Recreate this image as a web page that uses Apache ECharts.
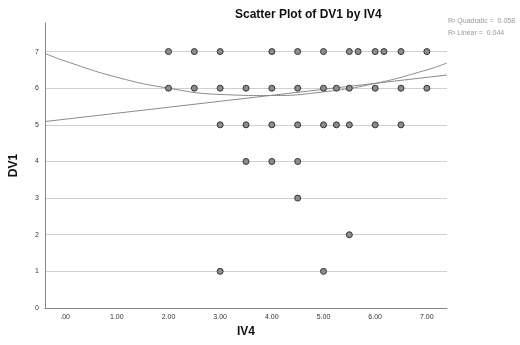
<!DOCTYPE html>
<html>
<head>
<meta charset="utf-8">
<script src="https://cdn.jsdelivr.net/npm/echarts@6/dist/echarts.min.js"></script>
<style>html,body{margin:0;padding:0;background:#fff}#c{width:520px;height:345px}</style>
</head>
<body>
<div id="c"></div>
<script>
// Scatter data (IV4, DV1)
const row7 = [2.0, 2.5, 3.0, 4.0, 4.5, 5.0, 5.5, 5.67, 6.0, 6.17, 6.5, 7.0];
const row6 = [2.0, 2.5, 3.0, 3.5, 4.0, 4.5, 5.0, 5.25, 5.5, 6.0, 6.5, 7.0];
const row5 = [3.0, 3.5, 4.0, 4.5, 5.0, 5.25, 5.5, 6.0, 6.5];
const row4 = [3.5, 4.0, 4.5];
const row3 = [4.5];
const row2 = [5.5];
const row1 = [3.0, 5.0];
// Fit lines
const fitX = [-0.39, 0, 1, 2, 3, 4, 5, 6, 7, 7.39];
const quadY = [6.95, 6.74, 6.30, 6.00, 5.83, 5.80, 5.90, 6.13, 6.50, 6.69];
const linX = [-0.39, 7.39];
const linY = [5.09, 6.36];
const xTicks = [0, 1, 2, 3, 4, 5, 6, 7];
const legendLines = ['R\u00b2 Quadratic =  0.058', 'R\u00b2 Linear =  0.044'];

const rows = [[7,row7],[6,row6],[5,row5],[4,row4],[3,row3],[2,row2],[1,row1]];
const pts = [];
rows.forEach(([y, xs]) => xs.forEach(x => pts.push([x, y])));

const chart = echarts.init(document.getElementById('c'), null, {renderer: 'canvas'});
const font = "'Liberation Sans', Arial, sans-serif";
chart.setOption({
  animation: false,
  textStyle: {fontFamily: font},
  title: {
    text: 'Scatter Plot of DV1 by IV4',
    left: 230, top: 4,
    textStyle: {fontSize: 12, fontWeight: 'bold', color: '#111', fontFamily: font}
  },
  grid: {left: 41, right: 73, top: 23, bottom: 37, containLabel: false},
  xAxis: {
    type: 'value', min: -0.39, max: 7.39,
    name: 'IV4', nameLocation: 'middle', nameGap: 15,
    nameTextStyle: {fontSize: 12, fontWeight: 'bold', color: '#111', fontFamily: font},
    axisLine: {show: true, onZero: false, lineStyle: {color: '#888', width: 1}},
    axisTick: {show: false},
    splitLine: {show: false},
    axisLabel: {
      customValues: xTicks, fontSize: 7, color: '#333', margin: 6,
      formatter: v => v === 0 ? '.00' : v.toFixed(2)
    }
  },
  yAxis: {
    type: 'value', min: 0, max: 7.78, interval: 1,
    name: 'DV1', nameLocation: 'middle', nameGap: 25, nameRotate: 90,
    nameTextStyle: {fontSize: 12, fontWeight: 'bold', color: '#111', fontFamily: font},
    axisLine: {show: true, onZero: false, lineStyle: {color: '#888', width: 1}},
    axisTick: {show: false},
    splitLine: {show: true, showMaxLine: false, showMinLine: false, lineStyle: {color: '#d0d0d0', width: 1}},
    axisLabel: {fontSize: 7, color: '#333', margin: 6, showMaxLabel: false}
  },
  series: [
    {
      type: 'line', data: fitX.map((x, i) => [x, quadY[i]]), smooth: true,
      symbol: 'none', lineStyle: {color: '#8a8a8a', width: 1}, z: 2
    },
    {
      type: 'line', data: linX.map((x, i) => [x, linY[i]]),
      symbol: 'none', lineStyle: {color: '#8a8a8a', width: 1}, z: 2
    },
    {
      type: 'scatter', data: pts, symbol: 'circle', symbolSize: 6,
      itemStyle: {color: '#8c8c8c', borderColor: '#333', borderWidth: 1, opacity: 1}, z: 3
    }
  ],
  graphic: legendLines.map((t, i) => ({
    type: 'text', left: 448, top: 18 + i * 12,
    style: {text: t, fontSize: 7, fill: '#999', fontFamily: font}
  }))
});
</script>
</body>
</html>
